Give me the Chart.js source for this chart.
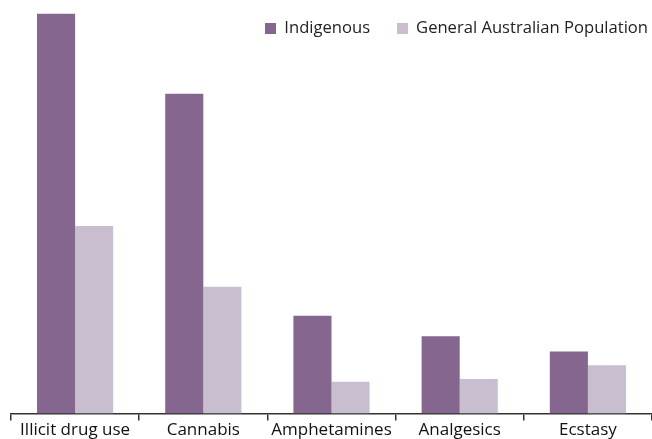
<!DOCTYPE html>
<html>
<head>
<meta charset="utf-8">
<script src="https://cdn.jsdelivr.net/npm/chart.js@4.4.1/dist/chart.umd.min.js"></script>
<style>
  body { margin: 0; background: #fff; }
  #wrap { position: relative; width: 652px; height: 439px; }
  #legend { position: absolute; top: 17px; right: 4px; font-family: 'Open Sans', sans-serif; font-size: 16.6px; color: #222; line-height: 20px; white-space: nowrap; }
  #legend span.item { margin-left: 27px; }
  #legend span.box { display: inline-block; width: 11px; height: 11px; margin-right: 8px; vertical-align: -1px; }
</style>
</head>
<body>
<div id="wrap"><canvas id="barChart"></canvas><div id="legend"></div></div>
<script>
// data (percent, estimated)
const categories = ["Illicit drug use", "Cannabis", "Amphetamines", "Analgesics", "Ecstasy"];
const indigenous = [29.0, 23.2, 7.1, 5.6, 4.5];
const general = [13.6, 9.2, 2.3, 2.5, 3.5];

const font = "'Open Sans', sans-serif";

const chart = new Chart(document.getElementById("barChart"), {
  type: "bar",
  data: {
    labels: categories,
    datasets: [
      { label: "Indigenous", data: indigenous, backgroundColor: "#84668e" },
      { label: "General Australian Population", data: general, backgroundColor: "#c9bdd0" }
    ]
  },
  options: {
    responsive: true,
    maintainAspectRatio: false,
    animation: false,
    layout: { padding: { left: 11, right: 0, top: 0, bottom: 0 } },
    datasets: { bar: { barPercentage: 1, categoryPercentage: 0.594 } },
    plugins: {
      tooltip: { enabled: false },
      legend: { display: false }
    },
    scales: {
      x: {
        border: { color: "#333", width: 1.5 },
        grid: { offset: true, drawOnChartArea: false, tickLength: 7, color: "#333", lineWidth: 1.5 },
        ticks: { color: "#111", font: { family: font, size: 17, lineHeight: 0.85 }, padding: 2, maxRotation: 0 }
      },
      y: {
        display: false,
        min: 0,
        max: 30
      }
    }
  }
});

// legend
const legend = document.getElementById("legend");
legend.innerHTML = "";
for (let i = 0; i < chart.data.datasets.length; i++) {
  let d = chart.data.datasets[i];
  legend.innerHTML +=
    "<span class='item'><span class='box' style='background:" + d.backgroundColor + "'></span>" + d.label + "</span>";
}
</script>
</body>
</html>
